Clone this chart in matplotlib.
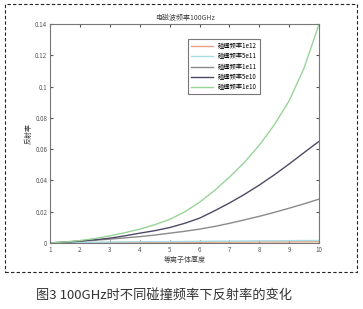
import matplotlib.pyplot as plt
from matplotlib.patches import Rectangle

plt.rcParams['font.family'] = ['Noto Sans CJK SC', 'DejaVu Sans']

# values at 0.5 steps of thickness
thickness = [1, 1.5, 2, 2.5, 3, 3.5, 4, 4.5, 5, 5.5, 6, 6.5, 7, 7.5, 8, 8.5, 9, 9.5, 10]
r_1e12 = [0, 0.0001, 0.0001, 0.0002, 0.0002, 0.0003, 0.0003, 0.0003, 0.0004, 0.0004,
          0.0004, 0.0005, 0.0005, 0.0005, 0.0006, 0.0006, 0.0006, 0.0007, 0.0007]
r_5e11 = [0, 0.0002, 0.0003, 0.0004, 0.0005, 0.0006, 0.0007, 0.0008, 0.0008, 0.0009,
          0.001, 0.0011, 0.0011, 0.0012, 0.0013, 0.0013, 0.0014, 0.0015, 0.0015]
r_1e11 = [0, 0.0004, 0.001, 0.0017, 0.0024, 0.0032, 0.004, 0.005, 0.0062, 0.0074,
          0.0088, 0.0105, 0.0125, 0.0147, 0.017, 0.0195, 0.0222, 0.025, 0.028]
r_5e10 = [0, 0.0005, 0.0012, 0.002, 0.003, 0.0045, 0.0062, 0.0078, 0.0098, 0.0125,
          0.0158, 0.0205, 0.0255, 0.031, 0.037, 0.0435, 0.0505, 0.0578, 0.065]
r_1e10 = [0, 0.0006, 0.0015, 0.0028, 0.0045, 0.0065, 0.0088, 0.0116, 0.015, 0.0198,
          0.026, 0.0335, 0.042, 0.0515, 0.0625, 0.0755, 0.091, 0.112, 0.14]

labels = ['碰撞频率1e12', '碰撞频率5e11', '碰撞频率1e11', '碰撞频率5e10', '碰撞频率1e10']
series = [r_1e12, r_5e11, r_1e11, r_5e10, r_1e10]
colors = ['#e8a080', '#a8dce4', '#8a8a8a', '#4e4a66', '#98d498']

fig = plt.figure(figsize=(3.63, 3.09), dpi=100)
ax = fig.add_axes([0.138, 0.214, 0.741, 0.708])

for y, lab, c in zip(series, labels, colors):
    ax.plot(thickness, y, color=c, lw=1.0, label=lab)

ax.set_xlim(1, 10)
ax.set_ylim(0, 0.14)
ax.set_xticks(range(1, 11))
ax.set_yticks([0, 0.02, 0.04, 0.06, 0.08, 0.1, 0.12, 0.14])
ax.set_yticklabels(['0', '0.02', '0.04', '0.06', '0.08', '0.1', '0.12', '0.14'])
ax.tick_params(direction='in', length=2, labelsize=4.5, colors='#555555',
               top=True, right=True, pad=2)
for s in ax.spines.values():
    s.set_color('#777777')
    s.set_linewidth(0.8)

ax.set_title('电磁波频率100GHz', fontsize=5, color='#444444', pad=3)
ax.set_xlabel('等离子体厚度', fontsize=5, color='#444444', labelpad=2)
ax.set_ylabel('反射率', fontsize=5, color='#444444', labelpad=2)

leg = ax.legend(loc='upper left', bbox_to_anchor=(0.5, 0.945), fontsize=4.5,
                frameon=True, fancybox=False, handlelength=3.5,
                borderpad=0.5, labelspacing=0.35)
leg.get_frame().set_edgecolor('#555555')
leg.get_frame().set_linewidth(0.8)

fig.patches.append(Rectangle((5 / 363, 1 - 272 / 309), 352 / 363, 268 / 309,
                             transform=fig.transFigure, fill=False,
                             ls=(0, (3, 2)), lw=0.8, ec='#222222'))

fig.text(0.452, 0.045, '图3 100GHz时不同碰撞频率下反射率的变化', ha='center',
         va='center', fontsize=9.5, color='#333333')

fig.savefig('out.png', dpi=100)
